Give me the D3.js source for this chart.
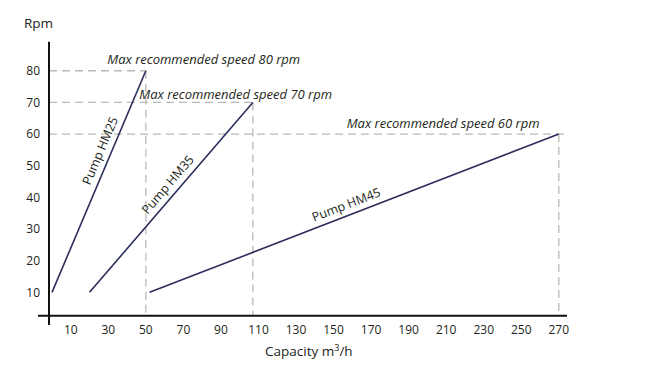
<!DOCTYPE html>
<html>
<head>
<meta charset="utf-8">
<script src="https://cdn.jsdelivr.net/npm/d3@7"></script>
<style>
  html, body { margin: 0; padding: 0; background: #fff; }
  svg { display: block; font-family: "Open Sans", sans-serif; }
</style>
</head>
<body>
<svg id="chart" width="650" height="366"></svg>
<script>
// ---- data ----
const xTicks = [10, 30, 50, 70, 90, 110, 130, 150, 170, 190, 210, 230, 250, 270];
const yTicks = [10, 20, 30, 40, 50, 60, 70, 80];
const pumps = ["Pump HM25", "Pump HM35", "Pump HM45"];
const startCapacity = [0, 20, 52];
const startRpm = [10, 10, 10];
const endCapacity = [50, 107, 270];
const endRpm = [80, 70, 60];
const maxLabels = ["Max recommended speed 80 rpm", "Max recommended speed 70 rpm", "Max recommended speed 60 rpm"];
const maxLabelCapacity = [29.5, 46.5, 157];
const maxLabelRpm = [82.1, 71.2, 61.8];
const labelFraction = [0.62, 0.53, 0.49];

// ---- layout ----
const svg = d3.select("#chart");
const x = d3.scaleLinear().domain([0, 270]).range([52, 558.8]);
const y = d3.scaleLinear().domain([0, 90]).range([324, 39.1]);
const axisX = 49, axisY = 315.7;
const lineColor = "#2b2d5c";
const textColor = "#231f20";
const gridColor = "#b9b9b9";

// dashed guides
pumps.forEach((p, i) => {
  const ex = x(endCapacity[i]), ey = y(endRpm[i]);
  const hEnd = i === 2 ? 567 : ex;
  svg.append("line").attr("x1", axisX).attr("x2", hEnd).attr("y1", ey).attr("y2", ey)
    .attr("stroke", gridColor).attr("stroke-width", 1.3).attr("stroke-dasharray", "8,5");
  svg.append("line").attr("x1", ex).attr("x2", ex).attr("y1", ey).attr("y2", axisY)
    .attr("stroke", gridColor).attr("stroke-width", 1.3).attr("stroke-dasharray", "8,5");
});

// axes
svg.append("line").attr("x1", axisX).attr("x2", axisX).attr("y1", 41.7).attr("y2", 325)
  .attr("stroke", "#111").attr("stroke-width", 2);
svg.append("line").attr("x1", 38).attr("x2", 567).attr("y1", axisY).attr("y2", axisY)
  .attr("stroke", "#111").attr("stroke-width", 2);

svg.append("g").selectAll("text").data(yTicks).join("text")
  .attr("x", 40).attr("y", d => y(d)).attr("dy", "0.35em")
  .attr("text-anchor", "end").attr("font-size", 12).attr("fill", textColor)
  .text(d => d);

svg.append("g").selectAll("text").data(xTicks).join("text")
  .attr("x", d => x(d)).attr("y", 333.5)
  .attr("text-anchor", "middle").attr("font-size", 12).attr("fill", textColor)
  .text(d => d);

svg.append("text").attr("x", 38.5).attr("y", 28).attr("text-anchor", "middle")
  .attr("font-size", 13.5).attr("fill", textColor).text("Rpm");

const cap = svg.append("text").attr("x", 265).attr("y", 356).attr("font-size", 13.5).attr("fill", textColor);
cap.append("tspan").text("Capacity m");
cap.append("tspan").attr("font-size", 9).attr("dy", -5).text("3");
cap.append("tspan").attr("dy", 5).text("/h");

// pump lines
pumps.forEach((p, i) => {
  const x1 = x(startCapacity[i]), y1 = y(startRpm[i]);
  const x2 = x(endCapacity[i]), y2 = y(endRpm[i]);
  svg.append("line").attr("x1", x1).attr("y1", y1).attr("x2", x2).attr("y2", y2)
    .attr("stroke", lineColor).attr("stroke-width", 1.6);
  const dx = x2 - x1, dy = y2 - y1, L = Math.hypot(dx, dy);
  const ux = dx / L, uy = dy / L;
  const t = labelFraction[i] * L;
  const off = 6.5;
  // perpendicular to upper-left side
  const px = x1 + ux * t + uy * off, py = y1 + uy * t - ux * off;
  const ang = Math.atan2(dy, dx) * 180 / Math.PI;
  svg.append("text").attr("transform", `translate(${px},${py}) rotate(${ang})`)
    .attr("text-anchor", "middle").attr("font-size", 12.5).attr("fill", textColor).text(p);
});

// max speed annotations
maxLabels.forEach((t, i) => {
  svg.append("text").attr("x", x(maxLabelCapacity[i])).attr("y", y(maxLabelRpm[i]))
    .attr("font-size", 13).attr("font-style", "italic").attr("fill", textColor).text(t);
});
</script>
</body>
</html>
